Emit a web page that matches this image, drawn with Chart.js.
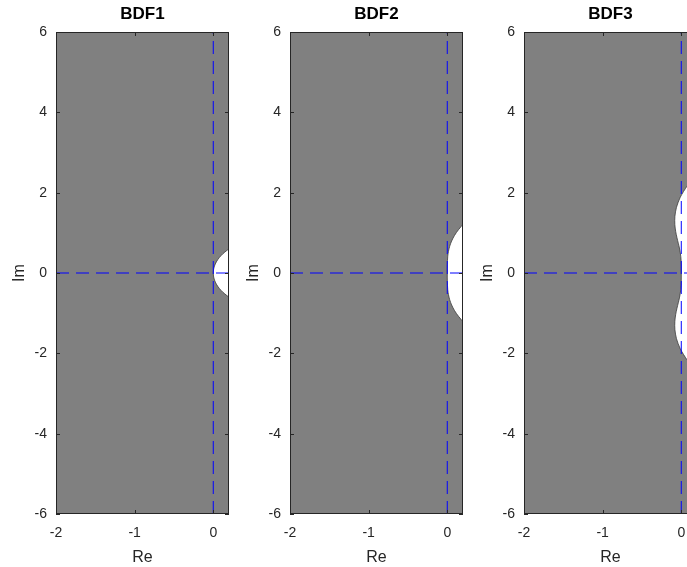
<!DOCTYPE html>
<html>
<head>
<meta charset="utf-8">
<title>BDF stability regions</title>
<script src="https://cdn.jsdelivr.net/npm/chart.js"></script>
<style>
  html, body { margin: 0; padding: 0; background: #fff; overflow: hidden; }
  #wrap { position: relative; width: 687px; height: 567px; overflow: hidden; }
  #wrap canvas { position: absolute; top: 0; }
</style>
</head>
<body>
<div id="wrap">
  <canvas id="bdf1" width="234" height="567" style="left:0px"></canvas>
  <canvas id="bdf2" width="234" height="567" style="left:234px"></canvas>
  <canvas id="bdf3" width="234" height="567" style="left:468px"></canvas>
</div>
<script>
/* ==========================
   Data
========================== */
const xLimits = [-2, 0.2];
const yLimits = [-6, 6];
const xTicks = [-2, -1, 0];
const xTickLabels = ['-2', '-1', '0'];
const yTicks = [-6, -4, -2, 0, 2, 4, 6];
const yTickLabels = ['-6', '-4', '-2', '0', '2', '4', '6'];
const titles = ['BDF1', 'BDF2', 'BDF3'];

// upper half of each stability boundary (Re, Im); the lower half is its mirror
const bdf1Re = [0, 0.005, 0.0199, 0.0447, 0.0789, 0.1224, 0.1747, 0.2352, 0.4597, 1, 1.5885, 1.8569, 2];
const bdf1Im = [0, 0.0998, 0.1987, 0.2955, 0.3894, 0.4794, 0.5646, 0.6442, 0.8415, 1, 0.8085, 0.5155, 0];

const bdf2Re = [0, 0.0004, 0.0062, 0.015, 0.0305, 0.0553, 0.092, 0.1432, 0.2113, 0.4066, 1.0593, 2.5233, 3.7722, 4];
const bdf2Im = [0, 0.2026, 0.4202, 0.5381, 0.6633, 0.7957, 0.9349, 1.0797, 1.2283, 1.5264, 2.0283, 2.0928, 0.9856, 0];

const bdf3Re = [0, -0.0004, -0.0056, -0.0234, -0.038, -0.0548, -0.0709, -0.0818, -0.0811, -0.0609, -0.0125, 0.0735, 0.1309, 0.2064, 0.3943, 2.8211, 5.9965, 6.6667];
const bdf3Im = [0, 0.2001, 0.4029, 0.6205, 0.7422, 0.8779, 1.0317, 1.2075, 1.4083, 1.6354, 1.8882, 2.1633, 2.3066, 2.455, 2.7542, 3.9568, 2.2367, 0];

const boundaries = [[bdf1Re, bdf1Im], [bdf2Re, bdf2Im], [bdf3Re, bdf3Im]];

/* ==========================
   Styling
========================== */
const FONT = "'Liberation Sans', Arial, Helvetica, sans-serif";
const TEXT = '#262626';

// closed outline: lower half (mirrored) then upper half
function closedCurve(re, im) {
  const pts = [];
  for (let i = re.length - 1; i > 0; i--) pts.push({ x: re[i], y: -im[i] });
  for (let i = 0; i < re.length; i++) pts.push({ x: re[i], y: im[i] });
  return pts;
}

// MATLAB-style box with small inward ticks
const framePlugin = {
  id: 'frame',
  afterDraw(chart) {
    const { ctx, chartArea: a, scales: { x, y } } = chart;
    ctx.save();
    ctx.strokeStyle = TEXT;
    ctx.lineWidth = 1;
    ctx.strokeRect(a.left + 0.5, a.top + 0.5, a.width - 1, a.height - 1);
    ctx.beginPath();
    xTicks.forEach(v => {
      const px = Math.round(x.getPixelForValue(v)) + 0.5;
      ctx.moveTo(px, a.bottom); ctx.lineTo(px, a.bottom - 4);
      ctx.moveTo(px, a.top); ctx.lineTo(px, a.top + 4);
    });
    yTicks.forEach(v => {
      const py = Math.round(y.getPixelForValue(v)) + 0.5;
      ctx.moveTo(a.left, py); ctx.lineTo(a.left + 4, py);
      ctx.moveTo(a.right, py); ctx.lineTo(a.right - 4, py);
    });
    ctx.stroke();
    ctx.restore();
  }
};

function makeChart(id, title, re, im) {
  const ctx = document.getElementById(id).getContext('2d');
  return new Chart(ctx, {
    type: 'line',
    data: {
      datasets: [
        {
          // real axis
          data: [{ x: xLimits[0], y: 0 }, { x: xLimits[1], y: 0 }],
          borderColor: '#0000ff',
          borderWidth: 1,
          borderDash: [13, 7],
          pointRadius: 0,
          fill: false,
          order: 0,
        },
        {
          // imaginary axis
          data: [{ x: 0, y: yLimits[0] }, { x: 0, y: yLimits[1] }],
          borderColor: '#0000ff',
          borderWidth: 1,
          borderDash: [13, 7],
          pointRadius: 0,
          fill: false,
          order: 0,
        },
        {
          // region outside the stability domain (white)
          data: closedCurve(re, im),
          borderColor: '#3a3a3a',
          borderWidth: 0.8,
          backgroundColor: '#ffffff',
          pointRadius: 0,
          tension: 0.3,
          fill: 'shape',
          order: 1,
        },
        {
          // stability domain (grey)
          data: [
            { x: xLimits[0], y: yLimits[0] }, { x: xLimits[1], y: yLimits[0] },
            { x: xLimits[1], y: yLimits[1] }, { x: xLimits[0], y: yLimits[1] },
          ],
          borderWidth: 0,
          borderColor: 'rgba(0,0,0,0)',
          backgroundColor: '#808080',
          pointRadius: 0,
          fill: 'shape',
          order: 2,
        },
      ],
    },
    options: {
      responsive: false,
      devicePixelRatio: 1,
      animation: false,
      events: [],
      layout: { padding: { left: 0, right: 5, top: 0, bottom: 0 } },
      plugins: {
        legend: { display: false },
        tooltip: { enabled: false },
        title: {
          display: true,
          text: title,
          fullSize: false,
          color: '#000',
          font: { family: FONT, size: 17, weight: 'bold' },
          padding: { top: 4, bottom: 7.6 },
        },
      },
      scales: {
        x: {
          type: 'linear',
          min: xLimits[0],
          max: xLimits[1],
          grid: { display: false, drawTicks: false },
          border: { display: false },
          afterBuildTicks: s => { s.ticks = xTicks.map(v => ({ value: v })); },
          afterFit: s => { s.height = 53; },
          ticks: {
            color: TEXT,
            font: { family: FONT, size: 14 },
            padding: 11,
            maxRotation: 0,
            autoSkip: false,
            callback: (v, i) => xTickLabels[i],
          },
          title: {
            display: true,
            text: 'Re',
            color: TEXT,
            font: { family: FONT, size: 16 },
            padding: { top: 0, bottom: 0 },
          },
        },
        y: {
          type: 'linear',
          min: yLimits[0],
          max: yLimits[1],
          grid: { display: false, drawTicks: false },
          border: { display: false },
          afterBuildTicks: s => { s.ticks = yTicks.map(v => ({ value: v })); },
          afterFit: s => { s.width = 56; },
          ticks: {
            color: TEXT,
            font: { family: FONT, size: 14 },
            padding: 9,
            autoSkip: false,
            callback: (v, i) => yTickLabels[i],
          },
          title: {
            display: true,
            text: 'Im',
            color: TEXT,
            font: { family: FONT, size: 16 },
            padding: { top: 9.5, bottom: 0 },
          },
        },
      },
    },
    plugins: [framePlugin],
  });
}

['bdf1', 'bdf2', 'bdf3'].forEach((id, k) => {
  makeChart(id, titles[k], boundaries[k][0], boundaries[k][1]);
});
</script>
</body>
</html>
